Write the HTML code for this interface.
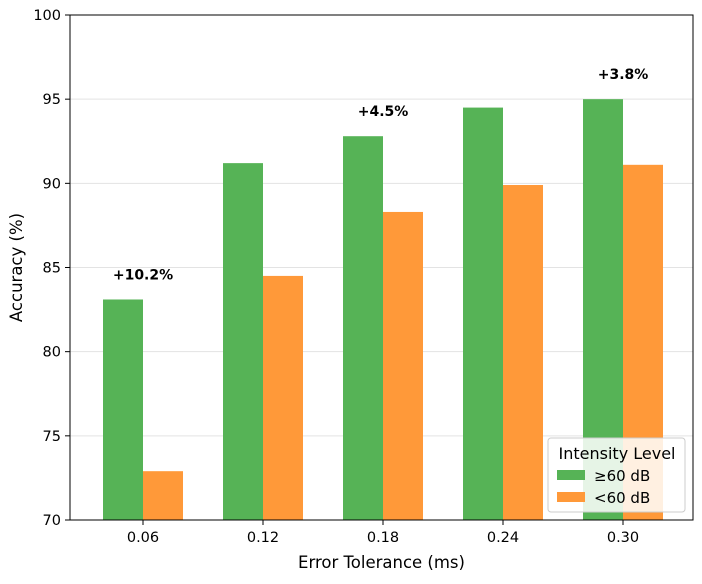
<!DOCTYPE html>
<html><head><meta charset="utf-8"><style>
body{margin:0;background:#fff;font-family:"Liberation Sans","DejaVu Sans",sans-serif;}
svg text{font-family:"DejaVu Sans","Liberation Sans",sans-serif;}
</style></head><body>
<svg id="c" width="702" height="579" xmlns="http://www.w3.org/2000/svg"></svg>
<script>
const categories=["0.06","0.12","0.18","0.24","0.30"];
const highValues=[83.1,91.2,92.8,94.5,95.0];
const lowValues=[72.9,84.5,88.3,89.9,91.1];
const annotations=["+10.2%","","+4.5%","","+3.8%"];
const yTicks=[70,75,80,85,90,95,100];
const L=70,R=693,T=15,B=520,ymin=70,ymax=100;
const svg=document.getElementById('c');
const NS="http://www.w3.org/2000/svg";
function y(v){return B-(v-ymin)/(ymax-ymin)*(B-T);}
function xc(i){return 143+i*120;}
function mk(tag,attrs,parent){const e=document.createElementNS(NS,tag);for(const k in attrs)e.setAttribute(k,attrs[k]);(parent||svg).appendChild(e);return e;}
yTicks.forEach(t=>{
 if(t>ymin&&t<ymax){const g=mk('line',{x1:L,x2:R,y1:y(t),y2:y(t),stroke:'#e3e3e3','stroke-width':1});
 
 }
 mk('line',{x1:L-5,x2:L,y1:y(t),y2:y(t),stroke:'#000'});
 const tx=mk('text',{x:L-9,y:y(t)+5,'text-anchor':'end','font-size':14.5});
 tx.textContent=t;
 
 
});
categories.forEach((c,i)=>{
 const g=mk('rect',{x:xc(i)-40,y:y(highValues[i]),width:40,height:B-y(highValues[i]),fill:'#56b356'});
 
 
 const o=mk('rect',{x:xc(i),y:y(lowValues[i]),width:40,height:B-y(lowValues[i]),fill:'#ff9939'});
 
 
 mk('line',{x1:xc(i),x2:xc(i),y1:B,y2:B+5,stroke:'#000'});
 const tx=mk('text',{x:xc(i),y:B+22,'text-anchor':'middle','font-size':14.5});
 tx.textContent=c;
 
 
 if(annotations[i]){const a=mk('text',{x:xc(i),y:y(highValues[i])-20,'text-anchor':'middle','font-size':14,'font-weight':'bold'});
 a.textContent=annotations[i];
 
 }
});
const fr=mk('rect',{x:L,y:T,width:R-L,height:B-T,fill:'none',stroke:'#000','stroke-width':1});


const xl=mk('text',{x:(L+R)/2,y:568,'text-anchor':'middle','font-size':16.5});
xl.textContent='Error Tolerance (ms)';


const yl=mk('text',{x:22,y:(T+B)/2,'text-anchor':'middle','font-size':16.5,transform:'rotate(-90 22 '+((T+B)/2)+')'});
yl.textContent='Accuracy (%)';


const lg=mk('g',{});


mk('rect',{x:548,y:438,width:137,height:74,rx:3,fill:'#fff','fill-opacity':0.85,stroke:'#ccc'},lg);
const lt=mk('text',{x:617,y:459,'text-anchor':'middle','font-size':16},lg);
lt.textContent='Intensity Level';
mk('rect',{x:557,y:470,width:28,height:10,fill:'#56b356'},lg);
const l1=mk('text',{x:594,y:481,'font-size':15},lg);
l1.textContent='≥60 dB';


mk('rect',{x:557,y:492,width:28,height:10,fill:'#ff9939'},lg);
const l2=mk('text',{x:594,y:503,'font-size':15},lg);
l2.textContent='<60 dB';


</script>
</body></html>
